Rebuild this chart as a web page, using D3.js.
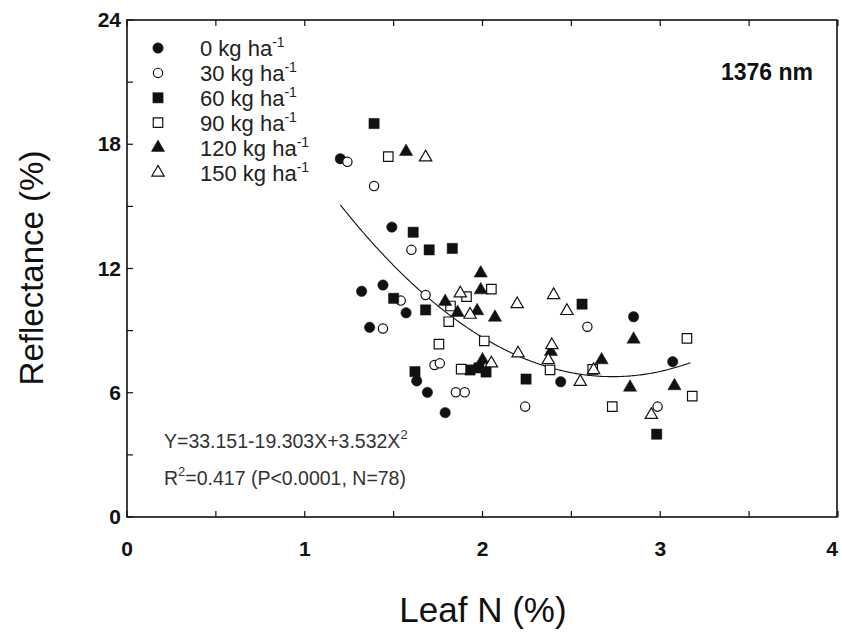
<!DOCTYPE html>
<html>
<head>
<meta charset="utf-8">
<script src="https://cdn.jsdelivr.net/npm/d3@7"></script>
<style>
  html, body { margin: 0; padding: 0; background: #fff; }
  svg { display: block; font-family: "Liberation Sans", Arial, sans-serif; }
</style>
</head>
<body>
<svg id="chart" width="842" height="639"></svg>
<script>
// ---- data ----
const xTicks = [0, 1, 2, 3, 4];
const xMinor = [0.5, 1.5, 2.5, 3.5];
const yTicks = [0, 6, 12, 18, 24];
const yMinor = [3, 9, 15, 21];

const seriesNames = ["0 kg ha", "30 kg ha", "60 kg ha", "90 kg ha", "120 kg ha", "150 kg ha"];

const x0 = [1.20, 1.49, 1.32, 1.44, 1.57, 1.365, 1.63, 1.69, 1.79, 2.44, 2.85, 3.07];
const y0 = [17.3, 14.0, 10.9, 11.2, 9.86, 9.16, 6.57, 6.02, 5.04, 6.53, 9.67, 7.5];

const x30 = [1.24, 1.39, 1.60, 1.68, 1.54, 1.44, 1.73, 1.76, 1.85, 1.90, 2.24, 2.59, 2.985];
const y30 = [17.15, 15.98, 12.9, 10.72, 10.45, 9.1, 7.34, 7.42, 6.02, 6.02, 5.33, 9.19, 5.33];

const x60 = [1.39, 1.61, 1.70, 1.83, 1.50, 1.68, 2.56, 1.62, 1.93, 1.98, 2.02, 2.245, 2.98];
const y60 = [19.0, 13.75, 12.9, 12.97, 10.56, 10.0, 10.28, 7.02, 7.1, 7.2, 7.0, 6.66, 4.0];

const x90 = [1.47, 2.05, 1.91, 1.82, 1.81, 2.01, 1.755, 1.88, 2.38, 2.62, 3.15, 3.18, 2.73];
const y90 = [17.4, 11.0, 10.64, 10.19, 9.43, 8.5, 8.35, 7.14, 7.1, 7.13, 8.63, 5.84, 5.33];

const x120 = [1.57, 1.99, 1.99, 1.79, 1.86, 1.97, 2.07, 2.0, 2.385, 2.67, 2.85, 2.83, 3.08];
const y120 = [17.64, 11.77, 10.96, 10.4, 9.87, 9.95, 9.64, 7.58, 7.98, 7.58, 8.58, 6.26, 6.33];

const x150 = [1.68, 1.875, 1.93, 2.195, 2.40, 2.475, 2.05, 2.20, 2.39, 2.37, 2.55, 2.625, 2.95];
const y150 = [17.37, 10.8, 9.77, 10.28, 10.72, 9.95, 7.42, 7.9, 8.3, 7.58, 6.53, 7.1, 4.93];

// regression coefficients (from the chart's equation) and fitted range
const fitCoef = [33.151, -19.303, 3.532];
const fitRange = [1.2, 3.17];

// ---- layout ----
const svg = d3.select("#chart");
const pLeft = 127, pRight = 838, pTop = 20, pBottom = 517;
const x = d3.scaleLinear().domain([0, 4]).range([pLeft, pRight]);
const y = d3.scaleLinear().domain([0, 24]).range([pBottom, pTop]);

const ink = "#111";

// frame
svg.append("rect")
  .attr("x", pLeft).attr("y", pTop)
  .attr("width", pRight - 1 - pLeft).attr("height", pBottom - pTop)
  .attr("fill", "none").attr("stroke", ink).attr("stroke-width", 1.6);

// ticks (inward) left & bottom, top
const tickLen = 6;
const g = svg.append("g").attr("stroke", ink).attr("stroke-width", 1.2);
[...xTicks, ...xMinor].forEach(v => {
  g.append("line").attr("x1", x(v)).attr("x2", x(v)).attr("y1", pBottom).attr("y2", pBottom - tickLen);
  g.append("line").attr("x1", x(v)).attr("x2", x(v)).attr("y1", pTop).attr("y2", pTop + tickLen);
});
[...yTicks, ...yMinor].forEach(v => {
  g.append("line").attr("x1", pLeft).attr("x2", pLeft + tickLen).attr("y1", y(v)).attr("y2", y(v));
});

// tick labels
svg.append("g").selectAll("text").data(xTicks).join("text")
  .attr("x", d => Math.min(x(d), 832)).attr("y", 556)
  .attr("text-anchor", "middle")
  .attr("font-size", 21).attr("font-weight", "bold").attr("fill", ink)
  .text(d => d);
svg.append("g").selectAll("text").data(yTicks).join("text")
  .attr("x", 121).attr("y", d => y(d) + 7)
  .attr("text-anchor", "end")
  .attr("font-size", 21).attr("font-weight", "bold").attr("fill", ink)
  .text(d => d);

// axis titles
svg.append("text").attr("x", 483).attr("y", 622)
  .attr("text-anchor", "middle").attr("font-size", 35).attr("fill", ink)
  .text("Leaf N (%)");
svg.append("text")
  .attr("transform", "translate(43,268) rotate(-90)")
  .attr("text-anchor", "middle").attr("font-size", 33).attr("fill", ink)
  .text("Reflectance (%)");

// fitted curve
const fitX = d3.range(fitRange[0], fitRange[1] + 0.0001, 0.01);
const line = d3.line().x(d => x(d)).y(d => y(fitCoef[0] + fitCoef[1] * d + fitCoef[2] * d * d));
svg.append("path").datum(fitX).attr("d", line)
  .attr("fill", "none").attr("stroke", ink).attr("stroke-width", 1.1);

// markers
const series = [
  { xs: x0,   ys: y0,   type: d3.symbolCircle,   size: 85, filled: true },
  { xs: x30,  ys: y30,  type: d3.symbolCircle,   size: 68, filled: false },
  { xs: x60,  ys: y60,  type: d3.symbolSquare,   size: 105, filled: true },
  { xs: x90,  ys: y90,  type: d3.symbolSquare,   size: 90, filled: false },
  { xs: x120, ys: y120, type: d3.symbolTriangle, size: 76, filled: true },
  { xs: x150, ys: y150, type: d3.symbolTriangle, size: 66, filled: false }
];

series.forEach(s => {
  const pts = s.xs.map((v, i) => [v, s.ys[i]]);
  svg.append("g").selectAll("path").data(pts).join("path")
    .attr("transform", d => `translate(${x(d[0])},${y(d[1])})`)
    .attr("d", d3.symbol().type(s.type).size(s.size)())
    .attr("fill", s.filled ? ink : "#fff")
    .attr("stroke", ink)
    .attr("stroke-width", s.filled ? 0.5 : 1.2);
});

// legend
const legY0 = 48, legDy = 24.9;
series.forEach((s, i) => {
  const ly = legY0 + i * legDy;
  svg.append("path")
    .attr("transform", `translate(158,${ly})`)
    .attr("d", d3.symbol().type(s.type).size(s.size)())
    .attr("fill", s.filled ? ink : "#fff")
    .attr("stroke", ink)
    .attr("stroke-width", s.filled ? 0.5 : 1.2);
  const t = svg.append("text").attr("x", 200).attr("y", ly + 8)
    .attr("font-size", 22).attr("fill", "#222");
  t.append("tspan").text(seriesNames[i]);
  t.append("tspan").attr("dy", -9).attr("font-size", 14).text("-1");
});

// annotation
svg.append("text").attr("x", 721).attr("y", 80)
  .attr("font-size", 23).attr("font-weight", "bold").attr("fill", ink)
  .text("1376 nm");

const eq = svg.append("text").attr("x", 164).attr("y", 448)
  .attr("font-size", 19.5).attr("fill", "#333");
eq.append("tspan").text("Y=33.151-19.303X+3.532X");
eq.append("tspan").attr("dy", -9).attr("font-size", 13).text("2");

const r2 = svg.append("text").attr("x", 164).attr("y", 485)
  .attr("font-size", 19.5).attr("fill", "#333");
r2.append("tspan").text("R");
r2.append("tspan").attr("dy", -9).attr("font-size", 13).text("2");
r2.append("tspan").attr("dy", 9).text("=0.417 (P<0.0001, N=78)");
</script>
</body>
</html>
